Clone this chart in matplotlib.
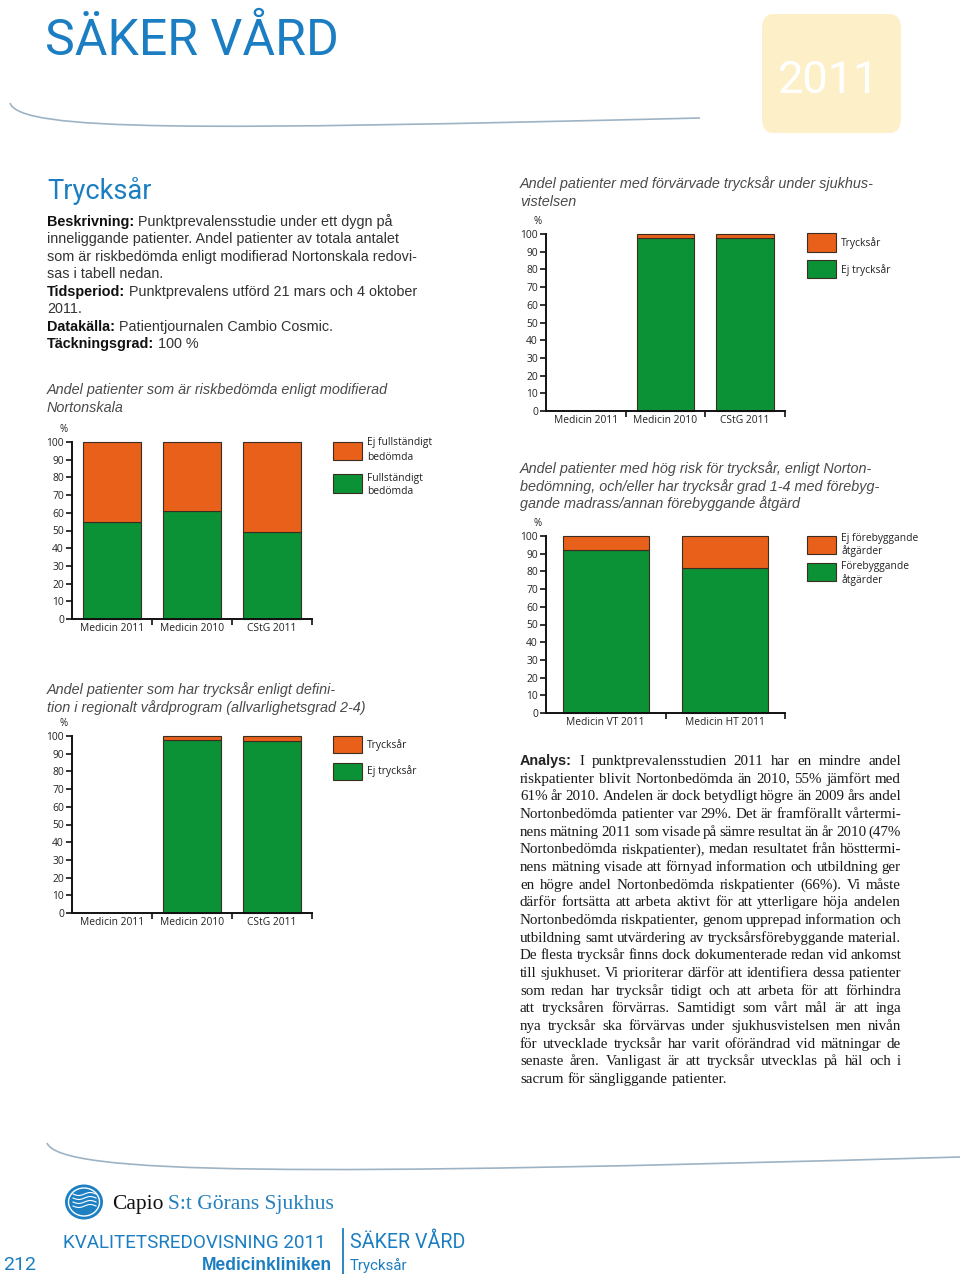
import matplotlib
matplotlib.use('Agg')
import matplotlib.pyplot as plt
import numpy as np
from matplotlib.patches import Rectangle, FancyBboxPatch, Ellipse, PathPatch
from matplotlib.path import Path
from matplotlib.lines import Line2D

# ---------------- data ----------------
c1_categories = ['Medicin 2011', 'Medicin 2010', 'CStG 2011']
c1_green = [55, 61, 49]
c1_orange = [45, 39, 51]
c1_legend = [['Ej fullständigt', 'bedömda'], ['Fullständigt', 'bedömda']]
c1_title = ['Andel patienter som är riskbedömda enligt modifierad', 'Nortonskala']

c2_categories = ['Medicin 2011', 'Medicin 2010', 'CStG 2011']
c2_green = [np.nan, 98, 97]
c2_orange = [np.nan, 2, 3]
c2_legend = [['Trycksår'], ['Ej trycksår']]
c2_title = ['Andel patienter som har trycksår enligt defini-',
            'tion i regionalt vårdprogram (allvarlighetsgrad 2-4)']

c3_categories = ['Medicin 2011', 'Medicin 2010', 'CStG 2011']
c3_green = [np.nan, 98, 98]
c3_orange = [np.nan, 2, 2]
c3_legend = [['Trycksår'], ['Ej trycksår']]
c3_title = ['Andel patienter med förvärvade trycksår under sjukhus-', 'vistelsen']

c4_categories = ['Medicin VT 2011', 'Medicin HT 2011']
c4_green = [92, 82]
c4_orange = [8, 18]
c4_legend = [['Ej förebyggande', 'åtgärder'], ['Förebyggande', 'åtgärder']]
c4_title = ['Andel patienter med hög risk för trycksår, enligt Norton-',
            'bedömning, och/eller har trycksår grad 1-4 med förebyg-',
            'gande madrass/annan förebyggande åtgärd']

yticks = list(range(0, 101, 10))

desc_lines = [
    [('Beskrivning:', True), ('Punktprevalensstudie under ett dygn på', False)],
    [('inneliggande patienter. Andel patienter av totala antalet', False)],
    [('som är riskbedömda enligt modifierad Nortonskala redovi-', False)],
    [('sas i tabell nedan.', False)],
    [('Tidsperiod:', True), ('Punktprevalens utförd 21 mars och 4 oktober', False)],
    [('2011.', False)],
    [('Datakälla:', True), ('Patientjournalen Cambio Cosmic.', False)],
    [('Täckningsgrad:', True), ('100 %', False)],
]

analysis_lines = [
    'Analys: I punktprevalensstudien 2011 har en mindre andel',
    'riskpatienter blivit Nortonbedömda än 2010, 55% jämfört med',
    '61% år 2010. Andelen är dock betydligt högre än 2009 års andel',
    'Nortonbedömda patienter var 29%. Det är framförallt vårtermi-',
    'nens mätning 2011 som visade på sämre resultat än år 2010 (47%',
    'Nortonbedömda riskpatienter), medan resultatet från hösttermi-',
    'nens mätning visade att förnyad information och utbildning ger',
    'en högre andel Nortonbedömda riskpatienter (66%).  Vi måste',
    'därför fortsätta att arbeta aktivt för att ytterligare höja andelen',
    'Nortonbedömda riskpatienter, genom upprepad information och',
    'utbildning samt utvärdering av trycksårsförebyggande material.',
    'De flesta trycksår finns dock dokumenterade redan vid ankomst',
    'till sjukhuset. Vi prioriterar därför att identifiera dessa patienter',
    'som redan har trycksår tidigt och att arbeta för att förhindra',
    'att trycksåren förvärras. Samtidigt som vårt mål är att inga',
    'nya trycksår ska förvärvas under sjukhusvistelsen men nivån',
    'för utvecklade trycksår har varit oförändrad vid mätningar de',
    'senaste åren.  Vanligast är att trycksår utvecklas på häl och i',
    'sacrum för sängliggande patienter.',
]

# ---------------- setup ----------------
W, H = 960, 1274
fig = plt.figure(figsize=(W / 100, H / 100), dpi=100)
fig.patch.set_facecolor('white')
R = fig.canvas.get_renderer()

ORANGE = '#E8601A'
GREEN = '#0B9236'
EDGE = '#3a2e22'
BLUE = '#1B7EC2'
TITLEGRAY = '#4a4a4a'
TICKFONT = 'Open Sans'
TS = 7.4


def fx(x):
    return x / W


def fy(y):
    return 1 - y / H


def put(x, y, s, size, family='Liberation Sans', color='#222222', weight='normal',
        style='normal', ha='left', va='baseline'):
    return fig.text(fx(x), fy(y), s, fontsize=size, family=family, color=color,
                    weight=weight, style=style, ha=ha, va=va)


def wid(t):
    return t.get_window_extent(renderer=R).width


def space_w(size, family, weight='normal', style='normal'):
    a = put(0, 0, 'x x', size, family=family, weight=weight, style=style)
    b = put(0, 0, 'xx', size, family=family, weight=weight, style=style)
    w = wid(a) - wid(b)
    a.remove()
    b.remove()
    return w


def fit(x, y, s, target, size, **kw):
    t = put(x, y, s, size, **kw)
    t.set_fontsize(size * target / wid(t))
    return t


# ---------------- charts ----------------
def chart(x0, x1, ytop, ybot, cats, green, orange):
    ax = fig.add_axes([fx(x0), fy(ybot), (x1 - x0) / W, (ybot - ytop) / H])
    n = len(cats)
    x = np.arange(n)
    ax.bar(x, green, width=0.72, color=GREEN, edgecolor=EDGE, linewidth=0.8, clip_on=False)
    ax.bar(x, orange, bottom=green, width=0.72, color=ORANGE, edgecolor=EDGE,
           linewidth=0.8, clip_on=False)
    ax.set_xlim(-0.5, n - 0.5)
    ax.set_ylim(0, 100)
    ax.set_yticks(yticks)
    ax.set_xticks(x)
    ax.set_xticklabels(cats)
    ax.set_xticks(np.arange(n) + 0.5, minor=True)
    ax.tick_params(axis='x', which='major', length=0, pad=3.2)
    ax.tick_params(axis='x', which='minor', length=4, width=1.2, direction='out', color='#111')
    ax.tick_params(axis='y', length=4, width=1.2, pad=1.8, color='#111')
    for lab in ax.get_xticklabels() + ax.get_yticklabels():
        lab.set_fontfamily(TICKFONT)
        lab.set_fontsize(TS)
        lab.set_color('#222')
    for s in ['top', 'right']:
        ax.spines[s].set_visible(False)
    for s in ['left', 'bottom']:
        ax.spines[s].set_linewidth(1.4)
        ax.spines[s].set_color('#111')
    ax.patch.set_alpha(0)
    put(x0 - 8, ytop - 12, '%', TS - 0.4, family=TICKFONT, ha='center', va='center')
    return ax


def legend(x, items):
    for color, y0, y1, lines, centers in items:
        fig.add_artist(Rectangle((fx(x), fy(y1)), 29 / W, (y1 - y0) / H, transform=fig.transFigure,
                                 facecolor=color, edgecolor=EDGE, linewidth=0.8))
        for ln, cy in zip(lines, centers):
            put(x + 34, cy, ln, TS, family=TICKFONT, va='center')


def title(x, y0, lines, step=17.7):
    for i, ln in enumerate(lines):
        put(x, y0 + i * step, ln, 10.4, color=TITLEGRAY, style='italic')


title(47, 394, c1_title)
chart(72, 312, 442, 619, c1_categories, c1_green, c1_orange)
legend(333, [(ORANGE, 442, 460, c1_legend[0], [443, 457]),
             (GREEN, 474, 493, c1_legend[1], [478, 492])])

title(47, 694, c2_title)
chart(72, 312, 736, 913, c2_categories, c2_green, c2_orange)
legend(333, [(ORANGE, 736, 753, c2_legend[0], [745]),
             (GREEN, 763, 780, c2_legend[1], [771])])

title(520, 188, c3_title)
chart(546, 785, 234, 411, c3_categories, c3_green, c3_orange)
legend(807, [(ORANGE, 233, 252, c3_legend[0], [243]),
             (GREEN, 260, 278, c3_legend[1], [270])])

title(520, 473, c4_title)
chart(546, 785, 536, 713, c4_categories, c4_green, c4_orange)
legend(807, [(ORANGE, 536, 554, c4_legend[0], [538, 551]),
             (GREEN, 563, 581, c4_legend[1], [567, 580])])

# ---------------- header ----------------
fit(45, 55, 'SÄKER VÅRD', 293, 37, family='Roboto', color=BLUE)
fig.add_artist(FancyBboxPatch((fx(762), fy(133)), 139 / W, 119 / H, transform=fig.transFigure,
                              boxstyle='round,pad=0,rounding_size=0.012',
                              facecolor='#FDF0C8', edgecolor='none'))
fit(829, 93, '2011', 102, 33, family='Roboto', color='white', ha='center')


def curve(pts, color='#9DB3C4', lw=1.2):
    verts = [(fx(a), fy(b)) for a, b in pts]
    path = Path(verts, [Path.MOVETO, Path.CURVE4, Path.CURVE4, Path.CURVE4])
    fig.add_artist(PathPatch(path, transform=fig.transFigure, fill=False, edgecolor=color, lw=lw))


curve([(10, 103), (20, 132), (200, 130), (700, 118)])
curve([(47, 1143), (60, 1175), (300, 1176), (960, 1157)])

# ---------------- left description ----------------
fit(47, 199, 'Trycksår', 105, 20.5, family='Roboto', color=BLUE)
DS = 10.4
sw = space_w(DS, 'Liberation Sans')
for i, parts in enumerate(desc_lines):
    y = 226 + i * 17.45
    cur = 47
    for s, bold in parts:
        t = put(cur, y, s, DS, color='#111111' if bold else '#333333',
                weight='bold' if bold else 'normal')
        cur += wid(t) + sw

# ---------------- analysis (justified) ----------------
AS = 10.8
ax_l, ax_r = 520, 901
ssp = space_w(AS, 'Liberation Serif')
for i, line in enumerate(analysis_lines):
    y = 765 + i * 17.67
    words = line.split()
    texts = []
    for j, w in enumerate(words):
        if i == 0 and j == 0:
            t = put(0, y, w, AS - 0.4, family='Liberation Sans', weight='bold', color='#222')
        else:
            t = put(0, y, w, AS, family='Liberation Serif', color='#1a1a1a')
        texts.append(t)
    widths = [wid(t) for t in texts]
    last = i == len(analysis_lines) - 1
    gap = ssp if last else (ax_r - ax_l - sum(widths)) / (len(words) - 1)
    cur = ax_l
    for t, w in zip(texts, widths):
        t.set_x(fx(cur))
        cur += w + gap

# ---------------- footer ----------------
fig.add_artist(Ellipse((fx(84), fy(1202)), 38 / W, 35 / H, transform=fig.transFigure,
                       facecolor='#1C80C3', edgecolor='none'))
fig.add_artist(Ellipse((fx(84), fy(1202)), 31 / W, 28 / H, transform=fig.transFigure,
                       facecolor='none', edgecolor='white', lw=1.0))
for k in range(4):
    yy = 1194 + k * 4
    xs = np.linspace(73, 96, 20)
    ys = yy + 1.5 * np.sin((xs - 73) / 23 * 2 * np.pi)
    fig.add_artist(Line2D(xs / W, 1 - ys / H, transform=fig.transFigure, color='white', lw=0.8))

t1 = put(112, 1209, 'Capio', 15.5, family='Liberation Serif', color='#111')
put(112 + wid(t1) + 5, 1209, 'S:t Görans Sjukhus', 15.5, family='Liberation Serif', color='#2580BE')

fit(63, 1248, 'KVALITETSREDOVISNING 2011', 265, 14, family='Roboto', color=BLUE)
fit(350, 1248, 'SÄKER VÅRD', 115, 14, family='Roboto', color=BLUE)
fig.add_artist(Line2D([fx(343), fx(343)], [fy(1229), fy(1274)], transform=fig.transFigure,
                      color=BLUE, lw=1.3))
fit(3, 1270, '212', 33, 14, family='Roboto', color=BLUE)
fit(202, 1270, 'Medicinkliniken', 132, 11, weight='bold', color=BLUE)
fit(350, 1270, 'Trycksår', 58, 10, family='Roboto', color=BLUE)

fig.savefig('out.png', dpi=100, facecolor='white')
